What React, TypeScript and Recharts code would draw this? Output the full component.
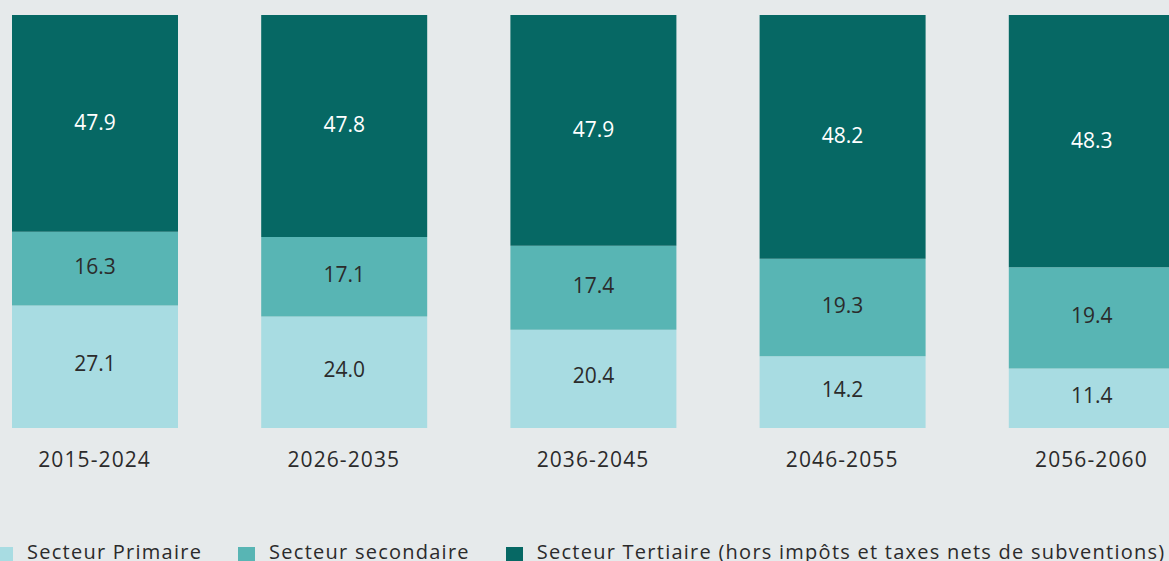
import { Bar, BarChart, LabelList, XAxis, YAxis } from 'recharts';

const periods = ['2015-2024', '2026-2035', '2036-2045', '2046-2055', '2056-2060'];
const primaire = [27.1, 24.0, 20.4, 14.2, 11.4];
const secondaire = [16.3, 17.1, 17.4, 19.3, 19.4];
const tertiaire = [47.9, 47.8, 47.9, 48.2, 48.3];

const seriesNames = [
  'Secteur Primaire',
  'Secteur secondaire',
  'Secteur Tertiaire (hors impôts et taxes nets de subventions)',
];

const data = periods.map((p, i) => ({
  period: p,
  primaire: primaire[i],
  secondaire: secondaire[i],
  tertiaire: tertiaire[i],
}));

const FONT = '"Open Sans", sans-serif';
const colors = ['#a8dce2', '#58b5b4', '#066864'];
const textDark = '#2b2b2b';

const fmt = (v: any) => Number(v).toFixed(1);

export default function App() {
  return (
    <div
      style={{
        position: 'absolute',
        left: 0,
        top: 0,
        width: 1169,
        height: 561,
        overflow: 'hidden',
        background: '#e6eaeb',
        fontFamily: FONT,
      }}
    >
      <div style={{ position: 'absolute', left: -30, top: 0 }}>
        <BarChart
          width={1246}
          height={561}
          data={data}
          stackOffset="expand"
          barSize={166}
          margin={{ top: 15, right: 0, bottom: 73, left: 0 }}
        >
          <XAxis
            dataKey="period"
            axisLine={false}
            tickLine={false}
            height={60}
            tickMargin={18}
            tick={{ fill: textDark, fontSize: 21, fontFamily: FONT, letterSpacing: 1.1 }}
          />
          <YAxis hide domain={[0, 1]} />
          <Bar dataKey="primaire" stackId="a" fill={colors[0]} isAnimationActive={false}>
            <LabelList dataKey="primaire" position="center" formatter={fmt} fill={textDark} fontSize={21} fontFamily={FONT} dy={-3} />
          </Bar>
          <Bar dataKey="secondaire" stackId="a" fill={colors[1]} isAnimationActive={false}>
            <LabelList dataKey="secondaire" position="center" formatter={fmt} fill={textDark} fontSize={21} fontFamily={FONT} dy={-2} />
          </Bar>
          <Bar dataKey="tertiaire" stackId="a" fill={colors[2]} isAnimationActive={false}>
            <LabelList dataKey="tertiaire" position="center" formatter={fmt} fill="#ffffff" fontSize={21} fontFamily={FONT} dy={-1} />
          </Bar>
        </BarChart>
      </div>
      <div
        style={{
          position: 'absolute',
          left: -4,
          top: 538,
          display: 'flex',
          alignItems: 'center',
          whiteSpace: 'nowrap',
          fontSize: 20,
          letterSpacing: 1.25,
          color: textDark,
          lineHeight: '28px',
        }}
      >
        {seriesNames.map((name, i) => (
          <div key={name} style={{ display: 'flex', alignItems: 'center', marginRight: 36 }}>
            <span style={{ display: 'inline-block', width: 17, height: 17, background: colors[i], marginRight: 14, marginTop: 6 }} />
            <span>{name}</span>
          </div>
        ))}
      </div>
    </div>
  );
}
